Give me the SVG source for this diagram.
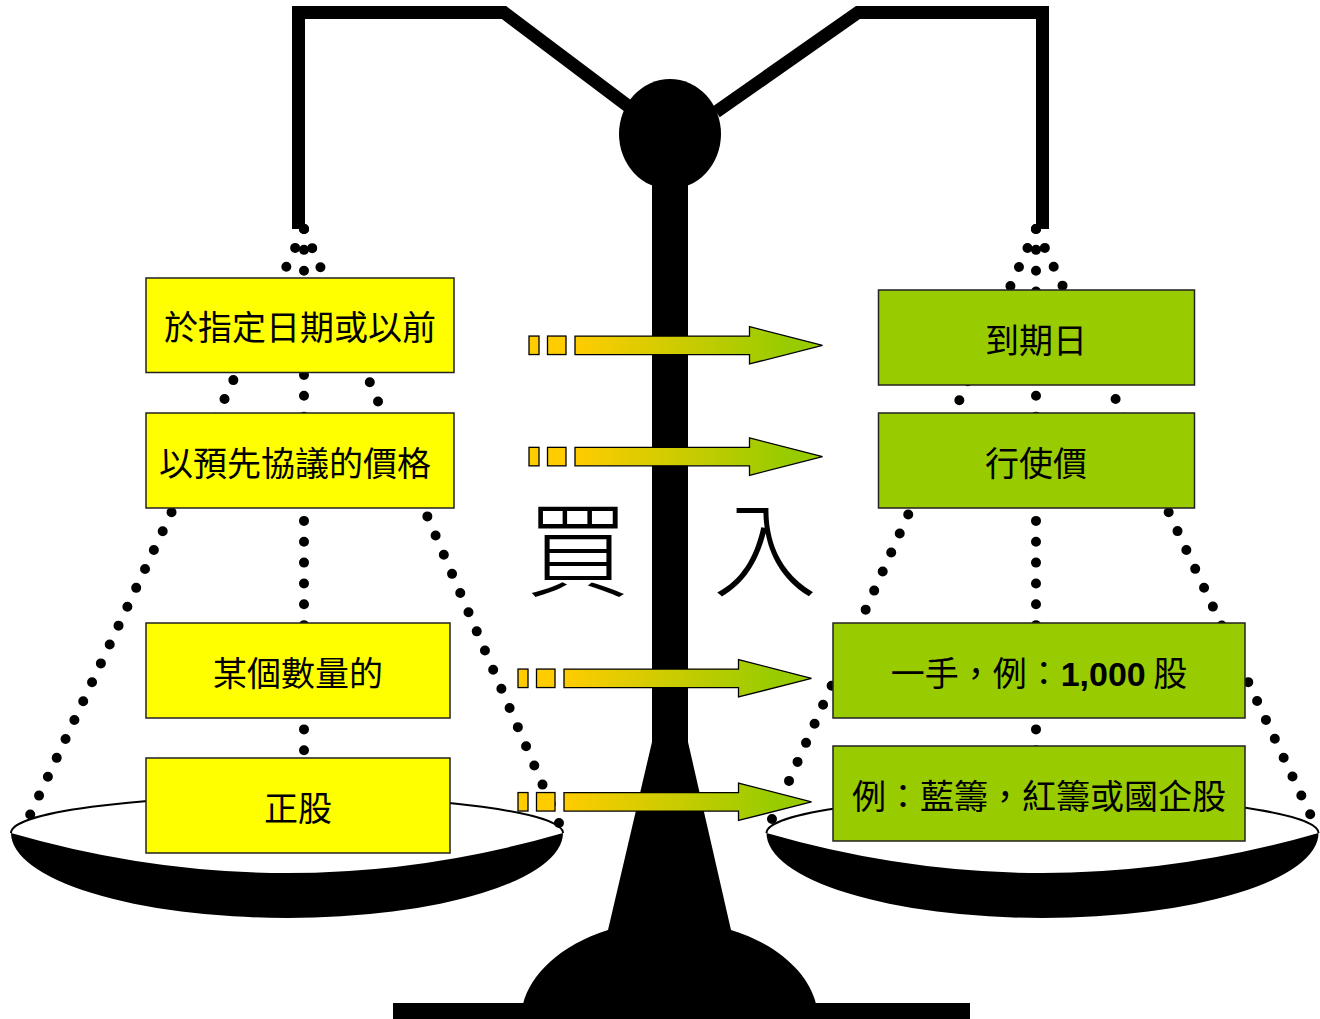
<svg xmlns="http://www.w3.org/2000/svg" width="1320" height="1019" viewBox="0 0 1320 1019">
<defs>
<style>
.arm{fill:none;stroke:#000;stroke-width:13;stroke-linejoin:miter}
.rim{fill:none;stroke:#000;stroke-width:2}
.dots{fill:none;stroke:#000;stroke-width:10;stroke-linecap:round;stroke-dasharray:0 20.85}
.yb{fill:#FFFF00;stroke:#222;stroke-width:1.5}
.gb{fill:#99CC00;stroke:#222;stroke-width:1.5}
.t{font-family:"Noto Sans CJK TC","Noto Sans CJK SC",sans-serif;font-size:34px;fill:#000;text-anchor:middle}
.big{font-family:"Noto Sans CJK TC","Noto Sans CJK SC",sans-serif;font-size:104px;font-weight:300;fill:#000;text-anchor:middle}
.sq{fill:#FFCC00;stroke:#000;stroke-width:1.3}
.ab{fill:url(#ag);stroke:#000;stroke-width:1.3}
</style>
<linearGradient id="ag" x1="0" y1="0" x2="1" y2="0">
<stop offset="0" stop-color="#FFCC00"/>
<stop offset="0.85" stop-color="#99CC00"/>
</linearGradient>
<g id="arrowShape">
<rect class="sq" x="-46" y="-9.25" width="10" height="18.5"/>
<rect class="sq" x="-27.5" y="-9.25" width="18.5" height="18.5"/>
<polygon class="ab" points="0,-9.25 174.5,-9.25 174.5,-18.7 247.5,0 174.5,18.7 174.5,9.25 0,9.25"/>
</g>
</defs>

<g id="stand">
<rect x="652" y="180" width="36" height="570" fill="#000"/>
<polygon points="652,742 688,742 731,930 608,930" fill="#000"/>
<path d="M608 930 C560 945 530 975 523 1004 L816 1004 C809 975 780 945 731 930 Z" fill="#000"/>
<rect x="393" y="1003" width="577" height="16" fill="#000"/>
<ellipse cx="670" cy="134" rx="51" ry="55" fill="#000"/>
<polyline class="arm" points="298.5,229 298.5,12.5 504,12.5 628,106"/>
<polyline class="arm" points="1042.5,229 1042.5,12.5 858,12.5 716,112"/>
</g>

<g id="pan-left">
<path class="rim" d="M11 833 A276 37 0 0 1 563 833"/>
<path d="M11 833 A276 85 0 0 0 563 833 Q287 913 11 833 Z" fill="#000"/>
</g>
<g id="pan-right">
<path class="rim" d="M766.5 833 A276 37 0 0 1 1318.5 833"/>
<path d="M766.5 833 A276 85 0 0 0 1318.5 833 Q1042.5 913 766.5 833 Z" fill="#000"/>
</g>

<g id="connectors">
<line class="dots" x1="304" y1="229" x2="30" y2="815"/>
<line class="dots" x1="304" y1="229" x2="304" y2="800"/>
<line class="dots" x1="304" y1="229" x2="559" y2="823"/>
<line class="dots" x1="1036" y1="229" x2="771.8" y2="819.4"/>
<line class="dots" x1="1036" y1="229" x2="1036" y2="800"/>
<line class="dots" x1="1036" y1="229" x2="1310.5" y2="815"/>
</g>

<g id="box-l1"><rect class="yb" x="146" y="278" width="308" height="94.5"/><text class="t" x="300" y="340">於指定日期或以前</text></g>
<g id="box-l2"><rect class="yb" x="146" y="413" width="308" height="95"/><text class="t" x="295" y="476">以預先協議的價格</text></g>
<g id="box-l3"><rect class="yb" x="146" y="623" width="304" height="95"/><text class="t" x="298" y="686">某個數量的</text></g>
<g id="box-l4"><rect class="yb" x="146" y="758" width="304" height="95"/><text class="t" x="298" y="821">正股</text></g>

<g id="box-r1"><rect class="gb" x="878.5" y="290" width="316" height="95"/><text class="t" x="1036" y="353">到期日</text></g>
<g id="box-r2"><rect class="gb" x="878.5" y="413" width="316" height="95"/><text class="t" x="1036" y="476">行使價</text></g>
<g id="box-r3"><rect class="gb" x="833" y="623" width="412" height="95"/><text class="t" x="1039" y="686">一手，例：<tspan font-family="'Liberation Sans',Arial,sans-serif" font-weight="bold">1,000</tspan> 股</text></g>
<g id="box-r4"><rect class="gb" x="833" y="746" width="412" height="95"/><text class="t" x="1039" y="809">例：藍籌，紅籌或國企股</text></g>

<g id="arrows">
<use href="#arrowShape" transform="translate(575,345.3)"/>
<use href="#arrowShape" transform="translate(575,456.6)"/>
<use href="#arrowShape" transform="translate(564,678.3)"/>
<use href="#arrowShape" transform="translate(564,801.8)"/>
</g>

<g id="label-buy">
<text class="big" x="577.5" y="589">買</text>
<text class="big" x="765" y="589">入</text>
</g>
</svg>
